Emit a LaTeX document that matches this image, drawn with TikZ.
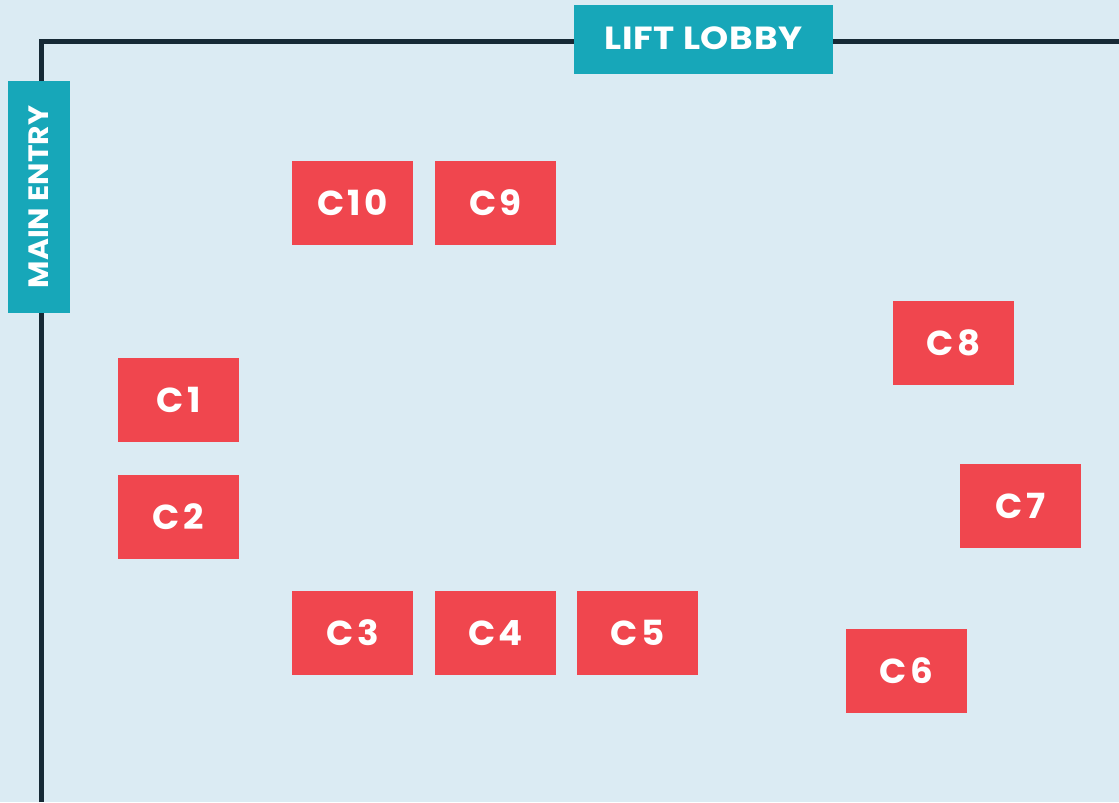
\documentclass[tikz,border=0pt]{standalone}
\usepackage{fontspec}
\setmainfont{Poppins}
\definecolor{bg}{HTML}{DBEBF3}
\definecolor{teal}{HTML}{17A7B9}
\definecolor{redbox}{HTML}{F0464E}
\definecolor{wall}{HTML}{162935}
\newfontfamily\seatfont[FakeStretch=1.03,LetterSpace=10]{Poppins}
\newfontfamily\lobbyfont[FakeStretch=1.12,LetterSpace=2]{Poppins}
\newfontfamily\entryfont[FakeStretch=1.065]{Poppins}
\tikzset{
  px/.style={x=0.75pt,y=-0.75pt},
  seat/.style={fill=redbox,text=white,minimum width=90.75pt,minimum height=63pt,inner sep=0pt,font=\seatfont\fontsize{26}{26}\selectfont\bfseries},
  sign/.style={fill=teal,text=white,inner sep=0pt}
}
\begin{document}
\begin{tikzpicture}[px]
\useasboundingbox (0,0) rectangle (1119,802);
\fill[bg] (0,0) rectangle (1119,802);
\coordinate (wallA) at (41.3,802);
\coordinate (wallB) at (41.3,41.3);
\coordinate (wallC) at (1119,41.3);
\draw[wall,line width=3.4pt,line join=miter] (wallA) -- (wallB) -- (wallC);
\node[sign,minimum width=194.25pt,minimum height=51.75pt,font=\lobbyfont\fontsize{24}{24}\selectfont\bfseries] (lobby) at (703.5,39.5) {\raisebox{2pt}{LIFT LOBBY}};
\node[sign,minimum width=174pt,minimum height=46.5pt,rotate=90,font=\entryfont\fontsize{21}{21}\selectfont\bfseries] (entry) at (39,197) {\raisebox{0.75pt}{MAIN ENTRY}};
\node[seat] (c10) at (352.5,203) {C10};
\node[seat] (c9) at (495.5,203) {C9};
\node[seat] (c8) at (953.5,343) {C8};
\node[seat] (c1) at (178.5,400) {C1};
\node[seat] (c2) at (178.5,517) {C2};
\node[seat] (c7) at (1020.5,506) {C7};
\node[seat] (c3) at (352.5,633) {C3};
\node[seat] (c4) at (495.5,633) {C4};
\node[seat] (c5) at (637.5,633) {C5};
\node[seat] (c6) at (906.5,671) {C6};
\end{tikzpicture}
\end{document}
